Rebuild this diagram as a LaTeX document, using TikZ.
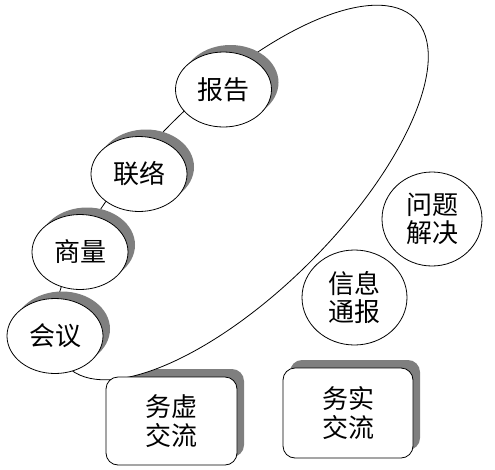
\documentclass[tikz,border=0pt]{standalone}
\usepackage{fontspec}
\newfontfamily\cjk{Noto Sans CJK SC}
\usetikzlibrary{shapes.geometric}
\definecolor{shadowgray}{HTML}{7F7F7F}
\tikzset{
  oval/.style={ellipse, draw, fill=white, line width=0.8pt, inner sep=0pt,
    minimum width=96pt, minimum height=75pt, font=\cjk\fontsize{26}{29}\selectfont},
  ovalshadow/.style={ellipse, fill=shadowgray, inner sep=0pt,
    minimum width=96pt, minimum height=75pt},
  roundoval/.style={ellipse, draw, fill=white, line width=0.8pt, inner sep=0pt,
    align=center, font=\cjk\fontsize{26}{28.5}\selectfont},
  card/.style={rectangle, rounded corners=12pt, draw, fill=white, line width=0.8pt,
    inner sep=0pt, align=center, font=\cjk\fontsize{26}{29}\selectfont},
  cardshadow/.style={rectangle, rounded corners=12pt, fill=shadowgray, inner sep=0pt},
  bigoval/.style={draw, fill=white, line width=0.8pt}
}
\begin{document}
\begin{tikzpicture}[x=1pt, y=-1pt]
\useasboundingbox (0,0) rectangle (495,469);
% box shadows (under the big ellipse)
\node[cardshadow, minimum width=131pt, minimum height=88pt] (sxu) at (178.5,413) {};
\node[cardshadow, minimum width=130pt, minimum height=90pt] (ssh) at (355,405) {};
% big tilted ellipse
\coordinate (bigc) at (241,192.5);
\draw[bigoval, rotate around={45:(bigc)}] (bigc) ellipse [x radius=246pt, y radius=98pt];
% small ellipses with shadows
\node[ovalshadow] (shy) at (62,329) {};
\node[ovalshadow] (ssl) at (87,245) {};
\node[ovalshadow] (sll) at (146,167) {};
\node[ovalshadow] (sbg) at (230.5,82.5) {};
\node[oval] (hy) at (55,336) {会议};
\node[oval] (sl) at (80,252) {商量};
\node[oval] (ll) at (139,174) {联络};
\node[oval] (bg) at (223.5,89.5) {报告};
% boxes
\node[card, minimum width=131pt, minimum height=88pt] (xu) at (171.5,421) {务虚\\交流};
\node[card, minimum width=130pt, minimum height=90pt] (sh) at (348,413) {务实\\交流};
% free ellipses
\node[roundoval, minimum width=105pt, minimum height=95pt] (xx) at (354.5,297.5) {信息\\通报};
\node[roundoval, minimum width=100pt, minimum height=94pt] (wt) at (432,219) {问题\\解决};
\end{tikzpicture}
\end{document}
